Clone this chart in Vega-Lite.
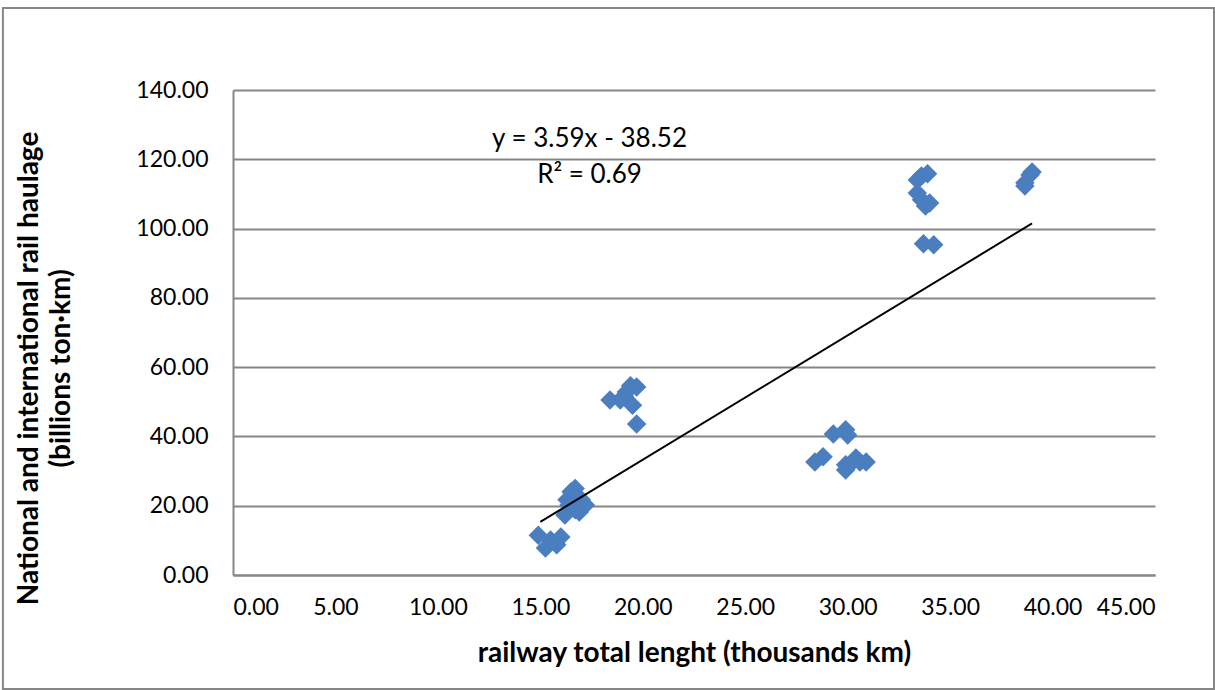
{
  "$schema": "https://vega.github.io/schema/vega-lite/v6.json",
  "autosize": "none",
  "width": 922,
  "height": 485,
  "padding": {"left": 233, "top": 90, "right": 60, "bottom": 115},
  "background": "white",
  "config": {
    "font": "Lato",
    "view": {"stroke": null},
    "axis": {"labelFont": "Lato", "titleFont": "Lato", "labelColor": "#000000", "titleColor": "#000000"}
  },
  "datasets": {
    "points": [
      {"len": 14.9, "haul": 11.5}, {"len": 15.25, "haul": 7.8}, {"len": 15.5, "haul": 10.1},
      {"len": 15.8, "haul": 8.7}, {"len": 16.0, "haul": 11.0}, {"len": 16.2, "haul": 17.3},
      {"len": 16.3, "haul": 21.7}, {"len": 16.5, "haul": 24.0}, {"len": 16.7, "haul": 25.0},
      {"len": 16.9, "haul": 18.2}, {"len": 17.0, "haul": 21.7}, {"len": 17.2, "haul": 20.2},
      {"len": 16.4, "haul": 20.2}, {"len": 16.7, "haul": 18.8},
      {"len": 18.4, "haul": 50.5}, {"len": 18.9, "haul": 50.5}, {"len": 19.2, "haul": 52.8},
      {"len": 19.4, "haul": 54.6}, {"len": 19.7, "haul": 54.3}, {"len": 19.5, "haul": 49.0},
      {"len": 19.7, "haul": 43.6}, {"len": 19.1, "haul": 51.7},
      {"len": 29.3, "haul": 40.7}, {"len": 29.9, "haul": 41.9}, {"len": 30.0, "haul": 40.4},
      {"len": 28.4, "haul": 32.6}, {"len": 28.8, "haul": 34.1}, {"len": 29.9, "haul": 31.8},
      {"len": 29.9, "haul": 30.3}, {"len": 30.4, "haul": 33.8}, {"len": 30.6, "haul": 32.6},
      {"len": 30.9, "haul": 32.6}, {"len": 30.1, "haul": 31.8},
      {"len": 33.4, "haul": 114.0}, {"len": 33.6, "haul": 115.2}, {"len": 33.9, "haul": 115.8},
      {"len": 33.4, "haul": 110.3}, {"len": 33.6, "haul": 108.3}, {"len": 34.0, "haul": 107.4},
      {"len": 33.8, "haul": 106.5}, {"len": 33.7, "haul": 95.6}, {"len": 34.2, "haul": 95.3},
      {"len": 38.65, "haul": 113.2}, {"len": 38.9, "haul": 115.5}, {"len": 38.65, "haul": 112.3},
      {"len": 39.0, "haul": 116.3}
    ],
    "trend": [
      {"len": 15.0, "haul": 15.33},
      {"len": 39.0, "haul": 101.49}
    ],
    "labels": [
      {"len": 17.4, "haul": 125.8, "text": "y = 3.59x - 38.52"},
      {"len": 17.4, "haul": 115.6, "text": "R² = 0.69"}
    ]
  },
  "layer": [
    {
      "data": {"name": "points"},
      "mark": {"type": "point", "shape": "diamond", "filled": true, "size": 380, "color": "#4a7ebf", "opacity": 1},
      "encoding": {
        "x": {
          "field": "len", "type": "quantitative",
          "scale": {"domain": [0, 45], "nice": false, "zero": false},
          "axis": {
            "values": [0, 5, 10, 15, 20, 25, 30, 35, 40, 45],
            "format": ".2f",
            "grid": false,
            "ticks": false,
            "domain": true, "domainColor": "#868686", "domainWidth": 2,
            "labelFontSize": 23, "labelPadding": 21,
            "title": "railway total lenght (thousands  km)",
            "titleFontSize": 28, "titleFontWeight": "bold", "titlePadding": 20
          }
        },
        "y": {
          "field": "haul", "type": "quantitative",
          "scale": {"domain": [0, 140], "nice": false, "zero": true},
          "axis": {
            "values": [0, 20, 40, 60, 80, 100, 120, 140],
            "format": ".2f",
            "grid": true, "gridColor": "#868686", "gridWidth": 2,
            "ticks": false,
            "domain": true, "domainColor": "#868686", "domainWidth": 2,
            "labelFontSize": 23, "labelPadding": 25,
            "title": ["National and international rail haulage", "(billions ton·km)"],
            "titleFontSize": 28, "titleFontWeight": "bold",
            "titleX": -218, "titleY": 278, "titleAngle": -90,
            "titleBaseline": "top", "titleAlign": "center", "titleLineHeight": 32
          }
        }
      }
    },
    {
      "data": {"values": [{"frame": "chart border"}]},
      "mark": {"type": "rect", "filled": false, "stroke": "#868686", "strokeWidth": 2, "clip": false},
      "encoding": {
        "x": {"datum": -11.23, "type": "quantitative"},
        "x2": {"datum": 47.88},
        "y": {"datum": 163.67, "type": "quantitative"},
        "y2": {"datum": -32.9}
      }
    },
    {
      "data": {"name": "trend"},
      "mark": {"type": "line", "color": "#000000", "strokeWidth": 2},
      "encoding": {
        "x": {"field": "len", "type": "quantitative"},
        "y": {"field": "haul", "type": "quantitative"}
      }
    },
    {
      "data": {"name": "labels"},
      "mark": {"type": "text", "font": "Lato", "fontSize": 26, "color": "#000000", "align": "center", "baseline": "middle"},
      "encoding": {
        "x": {"field": "len", "type": "quantitative"},
        "y": {"field": "haul", "type": "quantitative"},
        "text": {"field": "text"}
      }
    }
  ]
}
